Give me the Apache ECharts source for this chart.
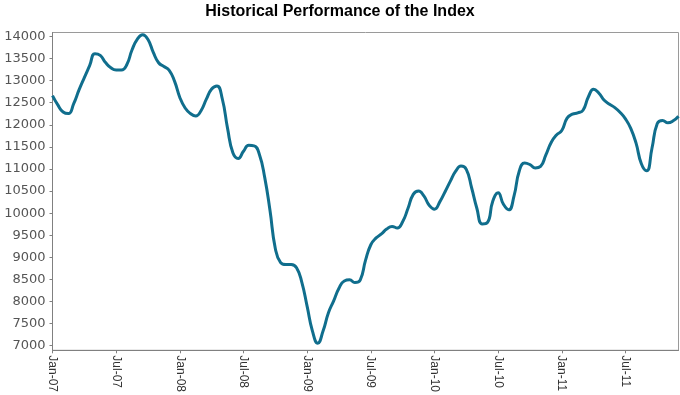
<!DOCTYPE html>
<html>
<head>
<meta charset="utf-8">
<script src="https://cdn.jsdelivr.net/npm/echarts@6/dist/echarts.min.js"></script>
<style>
html,body{margin:0;padding:0;background:#fff;}
#chart{width:680px;height:395px;}
</style>
</head>
<body>
<div id="chart"></div>
<script>
// Half-monthly readings of the index, Jan 2007 .. Dec 2011
const indexValues = [
  12660, 12450, 12290, 12255, 12480, 12790, 13070, 13340, 13610, 13570,
  13410, 13290, 13240, 13240, 13360, 13700, 13940, 14040, 13930, 13640,
  13405, 13320, 13235, 12990, 12620, 12380, 12255, 12200, 12320, 12580,
  12810, 12880, 12590, 11920, 11370, 11240, 11400, 11535, 11523, 11330,
  10810, 10060, 9200, 8880, 8836, 8836, 8762, 8433, 7890, 7330,
  7055, 7330, 7740, 8015, 8300, 8465, 8490, 8430, 8486, 8930,
  9285, 9440, 9530, 9640, 9700, 9665, 9805, 10105, 10425, 10500,
  10390, 10180, 10090, 10255, 10485, 10725, 10950, 11065, 10990, 10575,
  10105, 9755, 9790, 10275, 10460, 10200, 10075, 10390, 10960, 11135,
  11100, 11025, 11060, 11320, 11600, 11770, 11870, 12150, 12240, 12270,
  12330, 12630, 12805, 12715, 12555, 12465, 12390, 12280, 12135, 11920,
  11585, 11120, 10960, 11470, 12030, 12100, 12045, 12090, 12195
];
const monthNames = ['Jan','Feb','Mar','Apr','May','Jun','Jul','Aug','Sep','Oct','Nov','Dec'];
const xTickLabels = ['Jan-07','Jul-07','Jan-08','Jul-08','Jan-09','Jul-09','Jan-10','Jul-10','Jan-11','Jul-11'];
const yTickValues = [7000, 7500, 8000, 8500, 9000, 9500, 10000, 10500, 11000, 11500, 12000, 12500, 13000, 13500, 14000];
const chartTitle = 'Historical Performance of the Index';

const categories = indexValues.map(function (v, k) {
  const month = Math.floor(k / 2);
  const yy = String(7 + Math.floor(month / 12)).padStart(2, '0');
  return monthNames[month % 12] + '-' + yy + (k % 2 ? ' (mid)' : '');
});

const chart = echarts.init(document.getElementById('chart'), null, {renderer: 'canvas'});
chart.setOption({
  animation: false,
  backgroundColor: '#ffffff',
  title: {
    text: chartTitle,
    left: 'center',
    top: -1,
    textStyle: {fontFamily: 'Liberation Sans', fontWeight: 'bold', fontSize: 16, color: '#000'}
  },
  grid: {
    left: 52.5, right: 1.5, top: 32.5, bottom: 41,
    show: true, borderColor: '#9a9a9a', borderWidth: 1
  },
  xAxis: {
    type: 'category',
    data: categories,
    boundaryGap: false,
    axisLine: {lineStyle: {color: '#808080', width: 1}},
    axisTick: {show: true, interval: 11, length: 3, lineStyle: {color: '#808080'}},
    axisLabel: {
      interval: 11,
      rotate: -90,
      margin: 5,
      fontFamily: 'Liberation Sans',
      fontSize: 12,
      color: '#333',
      formatter: function (val, idx) { return xTickLabels[idx / 12] || ''; }
    },
    splitLine: {show: false}
  },
  yAxis: {
    type: 'value',
    min: 6895,
    max: 14090,
    axisLine: {show: true, lineStyle: {color: '#808080', width: 1}},
    axisTick: {show: true, length: 3, customValues: yTickValues, lineStyle: {color: '#808080'}},
    axisLabel: {
      customValues: yTickValues,
      margin: 7,
      fontFamily: 'DejaVu Sans',
      fontSize: 13,
      color: '#555',
      formatter: function (v) { return String(v); }
    },
    splitLine: {show: false}
  },
  series: [{
    type: 'line',
    data: indexValues,
    smooth: 0.5,
    showSymbol: false,
    lineStyle: {color: '#106e8d', width: 3},
    itemStyle: {color: '#106e8d'}
  }]
});
</script>
</body>
</html>
